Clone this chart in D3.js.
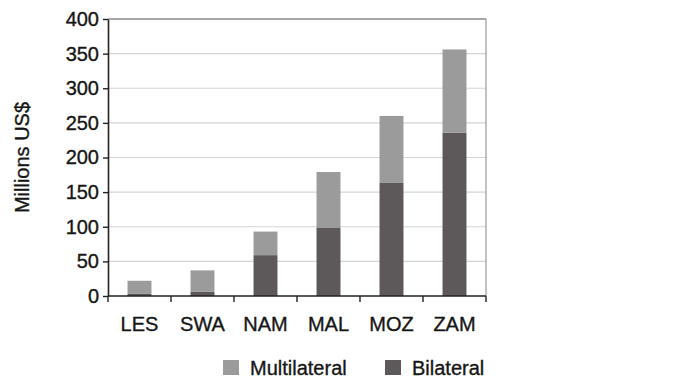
<!DOCTYPE html>
<html>
<head>
<meta charset="utf-8">
<script src="https://cdn.jsdelivr.net/npm/d3@7/dist/d3.min.js"></script>
<style>
  html, body { margin: 0; padding: 0; background: #fff; }
  svg { display: block; }
  text { font-family: "Liberation Sans", Arial, sans-serif; fill: #161616; stroke: #161616; stroke-width: 0.35px; }
</style>
</head>
<body>
<svg id="chart" width="693" height="385"></svg>
<script>
// Aid flows by country, millions of US$
const countries = ["LES", "SWA", "NAM", "MAL", "MOZ", "ZAM"];
const bilateral = [3, 6, 59, 99, 164, 236];
const multilateral = [19, 31, 34, 80, 96, 120];
const yTicks = [0, 50, 100, 150, 200, 250, 300, 350, 400];
const seriesNames = ["Multilateral", "Bilateral"];
const seriesColors = { Multilateral: "#9b9b9b", Bilateral: "#5d585a" };

const svg = d3.select("#chart");
const margin = { left: 108, right: 207, top: 19, bottom: 89 };
const W = 693, H = 385;
const plotW = W - margin.left - margin.right;
const plotH = H - margin.top - margin.bottom;

const x = d3.scaleBand().domain(countries).range([0, plotW]).paddingInner(0.62).paddingOuter(0.31);
const y = d3.scaleLinear().domain([0, 400]).range([plotH, 0]);

const g = svg.append("g").attr("transform", `translate(${margin.left},${margin.top})`);

// horizontal gridlines
g.append("g").selectAll("line").data(yTicks.filter(t => t > 0 && t < 400)).join("line")
  .attr("x1", 0).attr("x2", plotW)
  .attr("y1", d => y(d)).attr("y2", d => y(d))
  .attr("stroke", "#d4d4d4").attr("stroke-width", 1.2);

// plot frame: top and right edges
g.append("line").attr("x1", 0).attr("x2", plotW).attr("y1", y(400)).attr("y2", y(400))
  .attr("stroke", "#8a8a8a").attr("stroke-width", 1.4);
g.append("line").attr("x1", plotW).attr("x2", plotW).attr("y1", y(400)).attr("y2", plotH)
  .attr("stroke", "#9a9a9a").attr("stroke-width", 1.2);

// stacked bars
const rows = countries.map((c, i) => ({ country: c, Bilateral: bilateral[i], Multilateral: multilateral[i] }));
const stacked = d3.stack().keys(["Bilateral", "Multilateral"])(rows);
g.append("g").selectAll("g").data(stacked).join("g")
  .attr("fill", d => seriesColors[d.key])
  .selectAll("rect").data(d => d).join("rect")
  .attr("x", d => x(d.data.country))
  .attr("width", x.bandwidth())
  .attr("y", d => y(d[1]))
  .attr("height", d => y(d[0]) - y(d[1]));

// y axis
const yAxis = g.append("g").call(d3.axisLeft(y).tickValues(yTicks).tickSize(5).tickPadding(4).tickSizeOuter(0));
yAxis.select(".domain").attr("stroke", "#222").attr("stroke-width", 1.6);
yAxis.selectAll(".tick line").attr("stroke", "#222").attr("stroke-width", 1.4);
yAxis.selectAll(".tick text").attr("font-size", 20).attr("font-family", "Liberation Sans, Arial, sans-serif").attr("fill", "#161616");

// x axis with ticks at category boundaries
const xAxisG = g.append("g").attr("transform", `translate(0,${plotH})`);
xAxisG.append("line").attr("x1", 0).attr("x2", plotW).attr("y1", 0).attr("y2", 0)
  .attr("stroke", "#222").attr("stroke-width", 1.6);
const bounds = d3.range(countries.length + 1).map(i => i * plotW / countries.length);
xAxisG.selectAll("line.tk").data(bounds).join("line").attr("class", "tk")
  .attr("x1", d => d).attr("x2", d => d).attr("y1", 0).attr("y2", 6)
  .attr("stroke", "#222").attr("stroke-width", 1.4);
xAxisG.selectAll("text").data(countries).join("text")
  .attr("x", d => x(d) + x.bandwidth() / 2)
  .attr("y", 35)
  .attr("text-anchor", "middle")
  .attr("font-size", 20)
  .text(d => d);

// y axis title
svg.append("text")
  .attr("transform", `translate(29,${margin.top + plotH / 2}) rotate(-90)`)
  .attr("text-anchor", "middle")
  .attr("font-size", 20)
  .text("Millions US$");

// legend
const legendX = [223, 385];
const legend = svg.append("g").selectAll("g").data(seriesNames).join("g")
  .attr("transform", (d, i) => `translate(${legendX[i]},360)`);
legend.append("rect").attr("width", 16).attr("height", 15).attr("fill", d => seriesColors[d]);
legend.append("text").attr("x", 27).attr("y", 15).attr("font-size", 20).text(d => d);
</script>
</body>
</html>
